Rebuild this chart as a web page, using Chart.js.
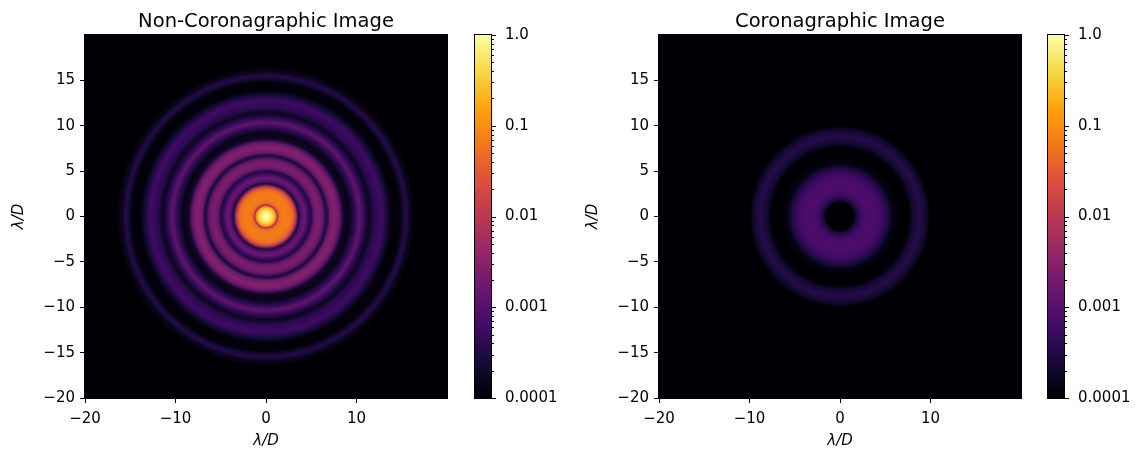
<!DOCTYPE html>
<html lang="en">
<head>
<meta charset="UTF-8">
<title>PSF comparison</title>
<script src="https://cdn.jsdelivr.net/npm/chart.js"></script>
<style>
  body { margin: 0; background: #fff; width: 1135px; height: 453px; overflow: hidden; position: relative; }
  .box { position: absolute; top: 0; height: 453px; }
</style>
</head>
<body>
<div class="box" style="left:0;width:470px"><canvas id="psfOpen"></canvas></div>
<div class="box" style="left:470px;width:100px"><canvas id="cbOpen"></canvas></div>
<div class="box" style="left:574px;width:470px"><canvas id="psfCoro"></canvas></div>
<div class="box" style="left:1043px;width:92px"><canvas id="cbCoro"></canvas></div>
<script>
// radial profiles: radius in lambda/D, intensity normalised to the open peak
const openRadius = [0, 0.35, 0.7, 0.95, 1.12, 1.25, 1.4, 1.7, 2.2, 2.7, 3.05, 3.3, 3.6, 3.95, 4.3, 4.65, 4.95, 5.35, 5.8, 6.25, 6.7, 7.1, 7.6, 8.1, 8.6, 9.2, 9.8, 10.35, 10.9, 11.4, 12.0, 12.8, 13.4, 13.9, 14.8, 15.1, 15.5, 15.9, 16.5];
const openLevel = [1.0, 0.8, 0.45, 0.2, 0.06, 0.005, 0.035, 0.065, 0.07, 0.06, 0.035, 0.008, 0.0003, 0.0011, 0.0016, 0.0006, 0.0003, 0.0017, 0.0024, 0.0016, 0.00025, 0.0018, 0.003, 0.0016, 0.00018, 0.00014, 0.0004, 0.0013, 0.0004, 0.00016, 0.0004, 0.0006, 0.00025, 0.00011, 0.00011, 0.0002, 0.00035, 0.00016, 0.0001];
const coroRadius = [0, 1.5, 1.9, 2.4, 3.0, 3.8, 4.6, 5.3, 5.8, 6.5, 7.6, 8.1, 8.8, 9.5, 10.0];
const coroLevel = [0.0001, 0.0001, 0.0003, 0.0006, 0.0008, 0.0008, 0.0006, 0.0003, 0.00013, 0.0001, 0.0001, 0.00022, 0.00035, 0.00022, 0.0001];

const xTicks = [-20, -10, 0, 10];
const xTickLabels = ['\u221220', '\u221210', '0', '10'];
const yTicks = [-20, -15, -10, -5, 0, 5, 10, 15];
const yTickLabels = ['\u221220', '\u221215', '\u221210', '\u22125', '0', '5', '10', '15'];
const cbTicks = [0.0001, 0.001, 0.01, 0.1, 1];
const cbTickLabels = ['0.0001', '0.001', '0.01', '0.1', '1.0'];

// inferno colormap sampled at t = 0, 0.1 ... 1
const inferno = ['#000004', '#160b39', '#420a68', '#6a176e', '#932667', '#bc3754', '#dd513a', '#f37819', '#fca50a', '#f6d746', '#fcffa4'];
const infernoRgb = inferno.map(h => [1, 3, 5].map(i => parseInt(h.slice(i, i + 2), 16)));

const FONT = '"DejaVu Sans", sans-serif';
Chart.defaults.font.family = FONT;
Chart.defaults.font.size = 15;
Chart.defaults.color = '#000';

// log colour scale from 1e-4 to 1
function levelColor(v) {
  let t = (Math.log10(v) + 4) / 4;
  t = Math.min(1, Math.max(0, t));
  const f = t * (infernoRgb.length - 1);
  const i = Math.min(Math.floor(f), infernoRgb.length - 2);
  const w = f - i;
  const a = infernoRgb[i], b = infernoRgb[i + 1];
  return 'rgb(' + a.map((c, k) => Math.round(c + (b[k] - c) * w)).join(',') + ')';
}

const psfPlugin = {
  id: 'psf',
  beforeDatasetsDraw(chart, args, opts) {
    const { ctx, chartArea: a, scales: { x, y } } = chart;
    const cx = x.getPixelForValue(0), cy = y.getPixelForValue(0);
    const rEnd = opts.radius[opts.radius.length - 1];
    const rx = x.getPixelForValue(rEnd) - cx;
    const ry = cy - y.getPixelForValue(rEnd);
    ctx.save();
    ctx.beginPath();
    ctx.rect(a.left, a.top, a.width, a.height);
    ctx.clip();
    ctx.fillStyle = levelColor(cbTicks[0]);
    ctx.fillRect(a.left, a.top, a.width, a.height);
    ctx.translate(cx, cy);
    ctx.scale(1, ry / rx);
    const g = ctx.createRadialGradient(0, 0, 0, 0, 0, rx);
    opts.radius.forEach((r, i) => g.addColorStop(r / rEnd, levelColor(opts.level[i])));
    ctx.fillStyle = g;
    ctx.beginPath();
    ctx.arc(0, 0, rx, 0, Math.PI * 2);
    ctx.fill();
    ctx.restore();
  },
  afterDraw(chart, args, opts) {
    const { ctx, chartArea: a } = chart;
    ctx.save();
    ctx.strokeStyle = '#000';
    ctx.lineWidth = 1;
    ctx.strokeRect(a.left - 0.5, a.top - 0.5, a.width + 1, a.height + 1);
    ctx.fillStyle = '#000';
    ctx.font = '19.5px ' + FONT;
    ctx.textAlign = 'center';
    ctx.textBaseline = 'alphabetic';
    ctx.fillText(opts.title, (a.left + a.right) / 2, 27);
    ctx.restore();
  }
};

const colorbarPlugin = {
  id: 'colorbar',
  beforeDatasetsDraw(chart) {
    const { ctx, chartArea: a, scales: { y } } = chart;
    ctx.save();
    const g = ctx.createLinearGradient(0, a.bottom, 0, a.top);
    inferno.forEach((c, i) => g.addColorStop(i / (inferno.length - 1), c));
    ctx.fillStyle = g;
    ctx.fillRect(a.left, a.top, a.width, a.height);
    ctx.strokeStyle = '#000';
    ctx.lineWidth = 1;
    ctx.strokeRect(a.left - 0.5, a.top - 0.5, a.width + 1, a.height + 1);
    ctx.beginPath();
    cbTicks.forEach((d, i) => {
      const p = Math.round(y.getPixelForValue(d)) + 0.5;
      ctx.moveTo(a.right, p);
      ctx.lineTo(a.right + 5, p);
      if (i < cbTicks.length - 1) {
        for (let k = 2; k < 10; k++) {
          const q = Math.round(y.getPixelForValue(d * k)) + 0.5;
          ctx.moveTo(a.right, q);
          ctx.lineTo(a.right + 3, q);
        }
      }
    });
    ctx.stroke();
    ctx.restore();
  }
};

function axisTitle(text, padding) {
  return { display: true, text: text, font: { size: 15, style: 'italic' }, padding: padding };
}

function psfChart(id, radius, level, title) {
  return new Chart(document.getElementById(id), {
    type: 'scatter',
    data: { datasets: [] },
    plugins: [psfPlugin],
    options: {
      responsive: true,
      maintainAspectRatio: false,
      animation: false,
      layout: { padding: { top: 35, right: 23, left: 0, bottom: 0 } },
      plugins: {
        legend: { display: false },
        tooltip: { enabled: false },
        psf: { radius: radius, level: level, title: title }
      },
      scales: {
        x: {
          type: 'linear', min: -20, max: 20,
          afterBuildTicks: s => { s.ticks = xTicks.map(v => ({ value: v })); },
          afterFit: s => { s.height = 55; },
          ticks: { callback: (v, i) => xTickLabels[i], padding: 7, maxRotation: 0, autoSkip: false },
          grid: { drawOnChartArea: false, tickLength: 5, tickColor: '#000' },
          border: { display: false },
          title: axisTitle('\u03bb/D', { top: 0, bottom: 3 })
        },
        y: {
          type: 'linear', min: -20, max: 20,
          afterBuildTicks: s => { s.ticks = yTicks.map(v => ({ value: v })); },
          afterFit: s => { s.width = 85; },
          ticks: { callback: (v, i) => yTickLabels[i], padding: 5, autoSkip: false },
          grid: { drawOnChartArea: false, tickLength: 5, tickColor: '#000' },
          border: { display: false },
          title: axisTitle('\u03bb/D', { top: 10, bottom: 0 })
        }
      }
    }
  });
}

function colorbarChart(id, axisWidth) {
  return new Chart(document.getElementById(id), {
    type: 'scatter',
    data: { datasets: [] },
    plugins: [colorbarPlugin],
    options: {
      responsive: true,
      maintainAspectRatio: false,
      animation: false,
      layout: { padding: { top: 35, right: 0, left: 5, bottom: 55 } },
      plugins: { legend: { display: false }, tooltip: { enabled: false } },
      scales: {
        x: { display: false, min: 0, max: 1 },
        y: {
          type: 'logarithmic', position: 'right', min: cbTicks[0], max: cbTicks[cbTicks.length - 1],
          afterBuildTicks: s => { s.ticks = cbTicks.map(v => ({ value: v })); },
          afterFit: s => { s.width = axisWidth; },
          ticks: { callback: (v, i) => cbTickLabels[i], padding: 14, autoSkip: false },
          grid: { display: false, drawTicks: false },
          border: { display: false }
        }
      }
    }
  });
}

psfChart('psfOpen', openRadius, openLevel, 'Non-Coronagraphic Image');
colorbarChart('cbOpen', 79);
psfChart('psfCoro', coroRadius, coroLevel, 'Coronagraphic Image');
colorbarChart('cbCoro', 71);
</script>
</body>
</html>
